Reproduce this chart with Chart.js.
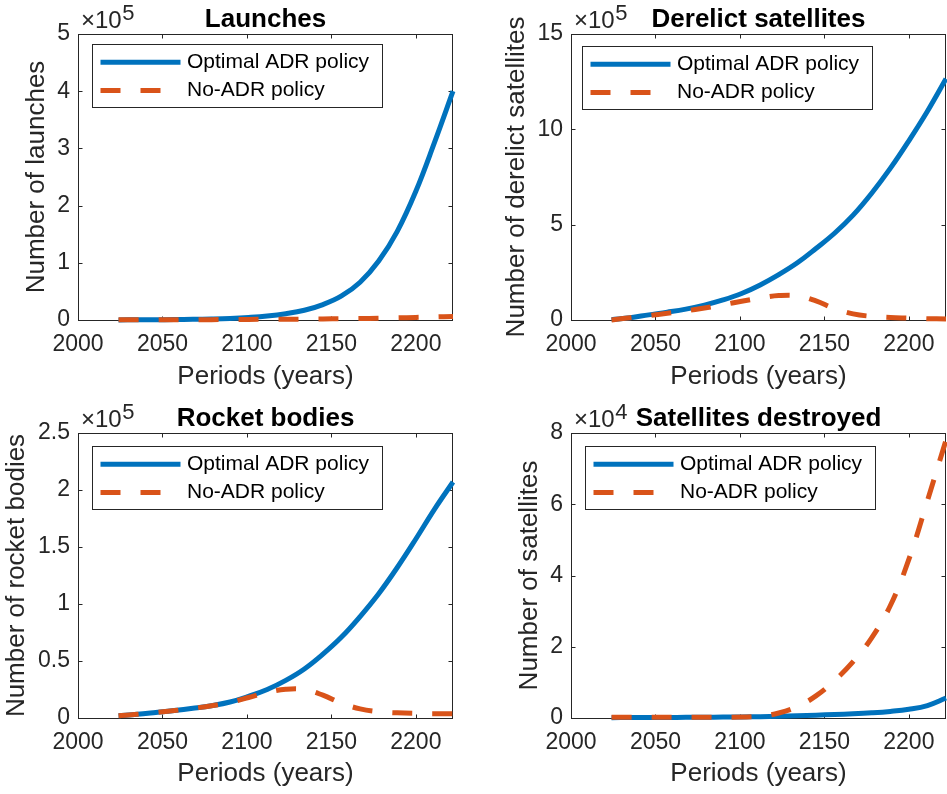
<!DOCTYPE html>
<html>
<head>
<meta charset="utf-8">
<title>Debris simulation: optimal ADR vs no ADR</title>
<script src="https://cdn.jsdelivr.net/npm/chart.js@4.4.1/dist/chart.umd.min.js"></script>
<style>
  html, body { margin: 0; padding: 0; background: #ffffff; }
  #fig { position: relative; width: 947px; height: 794px; overflow: hidden; background: #ffffff; }
  #fig canvas { position: absolute; }
</style>
</head>
<body>
<div id="fig">
  <canvas id="launches" width="473" height="397" style="left:0;top:0"></canvas>
  <canvas id="derelict" width="474" height="397" style="left:473px;top:0"></canvas>
  <canvas id="rockets" width="473" height="397" style="left:0;top:397px"></canvas>
  <canvas id="destroyed" width="474" height="397" style="left:473px;top:397px"></canvas>
</div>
<script>
// ---- data ---------------------------------------------------------------
const years = [2024, 2035, 2046, 2057, 2068, 2079, 2090, 2101, 2112, 2123,
               2134, 2145, 2156, 2167, 2178, 2189, 2200, 2211, 2222];
const xTicks = [2000, 2050, 2100, 2150, 2200];
const seriesNames = ['Optimal ADR policy', 'No-ADR policy'];

const launchesOptimal = [200, 300, 500, 800, 1200, 1800, 2800, 4500, 7000, 11000,
                         17000, 27000, 42000, 66000, 103000, 155000, 225000, 310000, 400000];
const launchesNoADR   = [300, 350, 400, 450, 550, 650, 800, 1000, 1200, 1400,
                         1600, 1900, 2200, 2600, 3100, 3700, 4500, 5400, 6300];

const derelictOptimal = [2000, 12000, 27000, 41000, 57000, 78000, 105000, 139000, 184000, 238000,
                         300000, 375000, 455000, 550000, 665000, 795000, 940000, 1095000, 1265000];
const derelictNoADR   = [0, 12000, 23000, 35000, 48000, 63000, 80000, 98000, 115000, 128000,
                         127000, 100000, 60000, 32000, 19000, 13000, 10000, 7000, 5000];

const rocketOptimal = [2000, 3200, 4800, 6500, 8500, 10800, 14000, 19000, 25000, 33000,
                       43000, 56000, 71000, 89000, 109000, 132000, 157000, 183000, 207000];
const rocketNoADR   = [2000, 3200, 4800, 6500, 8500, 10700, 13800, 18000, 22500, 25200,
                       25000, 20000, 13000, 8000, 5500, 4500, 4000, 3800, 3700];

const destroyedOptimal = [100, 120, 140, 160, 190, 220, 260, 310, 370, 500,
                          650, 800, 970, 1170, 1450, 1850, 2450, 3500, 5600];
const destroyedNoADR   = [200, 200, 200, 200, 200, 200, 200, 250, 500, 1400,
                          3200, 6200, 10500, 15800, 22500, 31500, 44500, 61000, 78000];

// ---- styling ------------------------------------------------------------
const BLUE = '#0072BD';
const ORANGE = '#D95319';
const AXIS = '#262626';
const FONT = '"Liberation Sans", Arial, Helvetica, sans-serif';
Chart.defaults.font.family = FONT;

// panel layout: plot-box edges in canvas pixels, legend offset, y-label offset
const panels = [
  { id: 'launches',  title: 'Launches',             ylabel: 'Number of launches',
    exp: 5, ymax: 5e5,  ystep: 1e5,  optimal: launchesOptimal,  noAdr: launchesNoADR,
    box: { l: 78, t: 34, r: 453, b: 320 }, legend: { dx: 14, dy: 10 }, yTitlePad: 21.5 },
  { id: 'derelict',  title: 'Derelict satellites',  ylabel: 'Number of derelict satellites',
    exp: 5, ymax: 15e5, ystep: 5e5,  optimal: derelictOptimal,  noAdr: derelictNoADR,
    box: { l: 98, t: 34, r: 473, b: 320 }, legend: { dx: 11, dy: 11.5 }, yTitlePad: 28 },
  { id: 'rockets',   title: 'Rocket bodies',        ylabel: 'Number of rocket bodies',
    exp: 5, ymax: 2.5e5, ystep: 0.5e5, optimal: rocketOptimal, noAdr: rocketNoADR,
    box: { l: 78, t: 36, r: 453, b: 321 }, legend: { dx: 13.5, dy: 13 }, yTitlePad: 1.5 },
  { id: 'destroyed', title: 'Satellites destroyed', ylabel: 'Number of satellites',
    exp: 4, ymax: 8e4,  ystep: 2e4,  optimal: destroyedOptimal, noAdr: destroyedNoADR,
    box: { l: 98, t: 36, r: 473, b: 321 }, legend: { dx: 13.5, dy: 13 }, yTitlePad: 41.5 }
];

// box with inward tick marks, title, exponent label and legend
const axesDecor = {
  id: 'axesDecor',
  beforeDatasetsDraw(chart, args, opts) {
    const { ctx, chartArea: a, scales } = chart;
    const L = Math.round(a.left) + 0.5, R = Math.round(a.right) - 0.5;
    const T = Math.round(a.top) + 0.5, B = Math.round(a.bottom) + 0.5;
    const tl = 4;
    ctx.save();
    ctx.strokeStyle = AXIS;
    ctx.lineWidth = 1;
    ctx.beginPath();
    scales.x.ticks.forEach(t => {
      const px = Math.round(scales.x.getPixelForValue(t.value)) + 0.5;
      ctx.moveTo(px, B); ctx.lineTo(px, B - tl);
      ctx.moveTo(px, T); ctx.lineTo(px, T + tl);
    });
    scales.y.ticks.forEach(t => {
      const py = Math.round(scales.y.getPixelForValue(t.value)) + 0.5;
      ctx.moveTo(L, py); ctx.lineTo(L + tl, py);
      ctx.moveTo(R, py); ctx.lineTo(R - tl, py);
    });
    ctx.stroke();
    ctx.strokeRect(L, T, R - L, B - T);
    ctx.restore();
  },
  afterDatasetsDraw(chart, args, opts) {
    const { ctx, chartArea: a } = chart;
    ctx.save();
    // title
    ctx.fillStyle = '#000000';
    ctx.font = 'bold 26px ' + FONT;
    ctx.textAlign = 'center';
    ctx.textBaseline = 'alphabetic';
    ctx.fillText(opts.title, (a.left + a.right) / 2, a.top - 7.5);
    // exponent multiplier
    ctx.fillStyle = AXIS;
    ctx.font = '24px ' + FONT;
    ctx.textAlign = 'left';
    const base = '\u00D710';
    ctx.fillText(base, a.left + 3, a.top - 6.5);
    const w = ctx.measureText(base).width;
    ctx.font = '22px ' + FONT;
    ctx.fillText(String(opts.exp), a.left + 3.5 + w, a.top - 14);
    // legend
    const lx = Math.round(a.left + opts.legend.dx) + 0.5;
    const ly = Math.round(a.top + opts.legend.dy) + 0.5;
    const lw = 290, lh = 63;
    ctx.fillStyle = '#ffffff';
    ctx.fillRect(lx, ly, lw, lh);
    ctx.strokeStyle = AXIS;
    ctx.lineWidth = 1;
    ctx.strokeRect(lx, ly, lw, lh);
    const rows = [17.7, 46];
    chart.data.datasets.forEach((ds, i) => {
      const y = ly + rows[i];
      ctx.beginPath();
      ctx.strokeStyle = ds.borderColor;
      ctx.lineWidth = ds.borderWidth;
      ctx.lineCap = 'butt';
      ctx.setLineDash(ds.borderDash || []);
      ctx.moveTo(lx + 8, y);
      ctx.lineTo(lx + 88, y);
      ctx.stroke();
      ctx.setLineDash([]);
      ctx.fillStyle = '#000000';
      ctx.font = '21px ' + FONT;
      ctx.textBaseline = 'middle';
      ctx.fillText(ds.label, lx + 94.5, y);
    });
    ctx.restore();
  }
};

function fmtTick(v) {
  return String(Math.round(v * 1000) / 1000);
}

function makePanel(p) {
  const canvas = document.getElementById(p.id);
  const W = canvas.width, H = canvas.height;
  const div = Math.pow(10, p.exp);
  const toPoints = vals => years.map((yr, i) => ({ x: yr, y: vals[i] }));
  return new Chart(canvas, {
    type: 'line',
    data: {
      datasets: [
        { label: seriesNames[0], data: toPoints(p.optimal), borderColor: BLUE, borderWidth: 5,
          pointRadius: 0, tension: 0.4, order: 2, clip: false,
          borderCapStyle: 'butt', borderJoinStyle: 'round', fill: false },
        { label: seriesNames[1], data: toPoints(p.noAdr), borderColor: ORANGE, borderWidth: 5,
          borderDash: [20, 20], pointRadius: 0, tension: 0.4, order: 1, clip: false,
          borderCapStyle: 'butt', borderJoinStyle: 'round', fill: false }
      ]
    },
    options: {
      responsive: false,
      animation: false,
      devicePixelRatio: 1,
      events: [],
      layout: { padding: { top: p.box.t, left: 0, right: W - p.box.r, bottom: 0 } },
      plugins: {
        legend: { display: false },
        tooltip: { enabled: false },
        title: { display: false },
        axesDecor: { title: p.title, exp: p.exp, legend: p.legend }
      },
      scales: {
        x: {
          type: 'linear', min: 2000, max: 2222,
          grid: { display: false, drawTicks: false, tickLength: 0 },
          border: { display: false },
          ticks: { stepSize: 50, includeBounds: false, color: AXIS, font: { size: 23 },
                   padding: 11, maxRotation: 0, autoSkip: false,
                   callback: v => String(v) },
          afterBuildTicks: s => { s.ticks = xTicks.map(v => ({ value: v })); },
          afterFit: s => { s.height = H - p.box.b; },
          title: { display: true, text: 'Periods (years)', color: AXIS,
                   font: { size: 26 }, padding: { top: 0, bottom: 4.5 } }
        },
        y: {
          type: 'linear', min: 0, max: p.ymax,
          grid: { display: false, drawTicks: false, tickLength: 0 },
          border: { display: false },
          ticks: { stepSize: p.ystep, color: AXIS, font: { size: 23 }, padding: 8,
                   callback: v => fmtTick(v / div) },
          afterFit: s => { s.width = p.box.l; },
          title: { display: true, text: p.ylabel, color: AXIS,
                   font: { size: 26 }, padding: { top: p.yTitlePad, bottom: 0 } }
        }
      }
    },
    plugins: [axesDecor]
  });
}

panels.forEach(makePanel);
</script>
</body>
</html>
